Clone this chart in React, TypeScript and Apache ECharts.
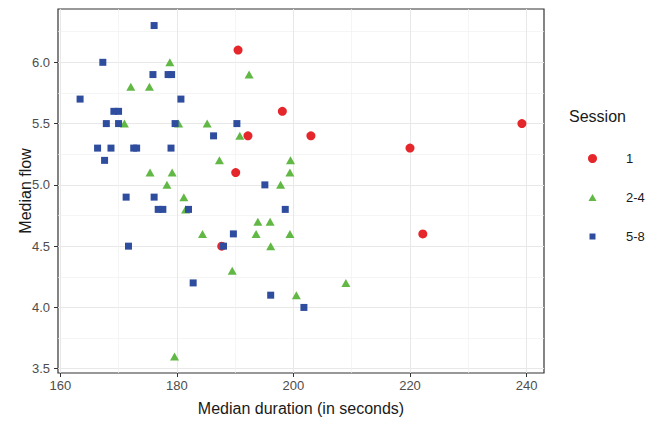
import React, { useEffect, useRef } from "react";
import * as echarts from "echarts";

const seriesNames = ["1", "2-4", "5-8"];

const session1: number[][] = [
  [190.5, 6.1], [198.1, 5.6], [192.2, 5.4], [203.0, 5.4], [190.1, 5.1],
  [187.7, 4.5], [220.0, 5.3], [239.2, 5.5], [222.2, 4.6],
];

const session24: number[][] = [
  [178.8, 6.0], [192.4, 5.9], [172.1, 5.8], [175.3, 5.8], [171.0, 5.5],
  [180.3, 5.5], [185.2, 5.5], [190.8, 5.4], [187.3, 5.2], [199.5, 5.2],
  [175.4, 5.1], [179.2, 5.1], [199.4, 5.1], [178.3, 5.0], [197.8, 5.0],
  [181.2, 4.9], [181.5, 4.8], [193.9, 4.7], [196.0, 4.7], [184.4, 4.6],
  [193.6, 4.6], [199.4, 4.6], [196.1, 4.5], [189.5, 4.3], [209.0, 4.2],
  [200.5, 4.1], [179.6, 3.6],
];

const session58: number[][] = [
  [176.1, 6.3], [167.3, 6.0], [175.9, 5.9], [178.5, 5.9], [179.1, 5.9],
  [163.4, 5.7], [180.7, 5.7], [169.2, 5.6], [170.0, 5.6], [167.9, 5.5],
  [170.0, 5.5], [179.7, 5.5], [190.3, 5.5], [186.3, 5.4], [166.4, 5.3],
  [168.7, 5.3], [172.6, 5.3], [173.1, 5.3], [179.0, 5.3], [167.6, 5.2],
  [171.3, 4.9], [176.1, 4.9], [195.1, 5.0], [176.8, 4.8], [177.6, 4.8],
  [182.0, 4.8], [198.6, 4.8], [189.7, 4.6], [188.0, 4.5], [171.7, 4.5],
  [182.8, 4.2], [196.1, 4.1], [201.8, 4.0],
];

const xMajorTicks = [160, 180, 200, 220, 240];
const xMinorTicks = [170, 190, 210, 230];
const yMajorTicks = [3.5, 4.0, 4.5, 5.0, 5.5, 6.0];
const yMinorTicks = [3.75, 4.25, 4.75, 5.25, 5.75, 6.25];

const xLimits = [159.61, 242.99];
const yLimits = [3.465, 6.435];

const FONT = "Liberation Sans, Arial, Helvetica, sans-serif";
const RED = "#E5262B";
const GREEN = "#62B845";
const BLUE = "#2F4D9E";

const legendIcons = [
  "circle",
  "path://M0,0L0,0M4.5,1L8.5,8L0.5,8ZM9,9L9,9",
  "path://M0,0L0,0M1.5,1.5L7.5,1.5L7.5,7.5L1.5,7.5ZM9,9L9,9",
];

export default function App() {
  const ref = useRef<HTMLDivElement>(null);
  useEffect(() => {
    if (!ref.current) return;
    const chart = echarts.init(ref.current, undefined, { renderer: "svg" });
    const hiddenAxisBits = {
      axisLine: { show: false },
      axisLabel: { show: false },
    };
    chart.setOption({
      animation: false,
      backgroundColor: "#ffffff",
      textStyle: { fontFamily: FONT },
      title: {
        text: "Session",
        left: 569,
        top: 108,
        padding: 0,
        textStyle: { fontSize: 16, fontWeight: "normal", color: "#1a1a1a", fontFamily: FONT },
      },
      legend: {
        orient: "vertical",
        left: 588,
        top: 152,
        align: "left",
        itemWidth: 9,
        itemHeight: 9,
        itemGap: 26,
        padding: 0,
        symbolKeepAspect: true,
        data: seriesNames.map((n, i) => ({ name: n, icon: legendIcons[i] })),
        textStyle: { fontSize: 13, color: "#1a1a1a", fontFamily: FONT, padding: [0, 0, 0, 24] },
      },
      grid: {
        left: 58,
        top: 9,
        right: 118,
        bottom: 48,
        show: true,
        outerBoundsMode: "none",
        containLabel: false,
        borderColor: "#333333",
        borderWidth: 1.2,
        backgroundColor: "transparent",
      },
      xAxis: [
        {
          type: "value",
          min: xLimits[0],
          max: xLimits[1],
          name: "Median duration (in seconds)",
          nameLocation: "middle",
          nameGap: 27,
          nameTextStyle: { fontSize: 16, color: "#1a1a1a", fontFamily: FONT },
          axisLine: { show: false },
          axisTick: { show: true, length: 4, customValues: xMajorTicks, lineStyle: { color: "#333333" } },
          axisLabel: { show: true, customValues: xMajorTicks, margin: 6, fontSize: 13, color: "#4d4d4d", fontFamily: FONT },
          splitLine: { show: true, lineStyle: { color: "#e8e8e8", width: 1 } },
        },
        {
          type: "value",
          min: xLimits[0],
          max: xLimits[1],
          position: "top",
          ...hiddenAxisBits,
          axisTick: { show: false, customValues: xMinorTicks },
          splitLine: { show: true, lineStyle: { color: "#f0f0f0", width: 0.7 } },
        },
      ],
      yAxis: [
        {
          type: "value",
          min: yLimits[0],
          max: yLimits[1],
          name: "Median flow",
          nameLocation: "middle",
          nameGap: 25,
          nameRotate: 90,
          nameMoveOverlap: false,
          nameTextStyle: { fontSize: 16, color: "#1a1a1a", fontFamily: FONT },
          axisLine: { show: false },
          axisTick: { show: true, length: 4, customValues: yMajorTicks, lineStyle: { color: "#333333" } },
          axisLabel: {
            show: true,
            customValues: yMajorTicks,
            margin: 8,
            fontSize: 13,
            color: "#4d4d4d",
            fontFamily: FONT,
            formatter: (v: number) => v.toFixed(1),
          },
          splitLine: { show: true, lineStyle: { color: "#e8e8e8", width: 1 } },
        },
        {
          type: "value",
          min: yLimits[0],
          max: yLimits[1],
          position: "right",
          ...hiddenAxisBits,
          axisTick: { show: false, customValues: yMinorTicks },
          splitLine: { show: true, lineStyle: { color: "#f0f0f0", width: 0.7 } },
        },
      ],
      series: [
        {
          name: seriesNames[0],
          type: "scatter",
          symbol: "circle",
          symbolSize: 9,
          symbolKeepAspect: true,
          itemStyle: { color: RED, opacity: 1 },
          data: session1,
          z: 3,
        },
        {
          name: seriesNames[1],
          type: "scatter",
          symbol: "triangle",
          symbolSize: [9, 8],
          symbolKeepAspect: true,
          itemStyle: { color: GREEN, opacity: 1 },
          data: session24,
          z: 4,
        },
        {
          name: seriesNames[2],
          type: "scatter",
          symbol: "rect",
          symbolSize: 7,
          symbolKeepAspect: true,
          itemStyle: { color: BLUE, opacity: 1 },
          data: session58,
          z: 5,
        },
      ],
    });
    return () => chart.dispose();
  }, []);
  return (
    <div
      ref={ref}
      style={{ position: "absolute", left: 0, top: 0, width: 662, height: 421 }}
    />
  );
}
